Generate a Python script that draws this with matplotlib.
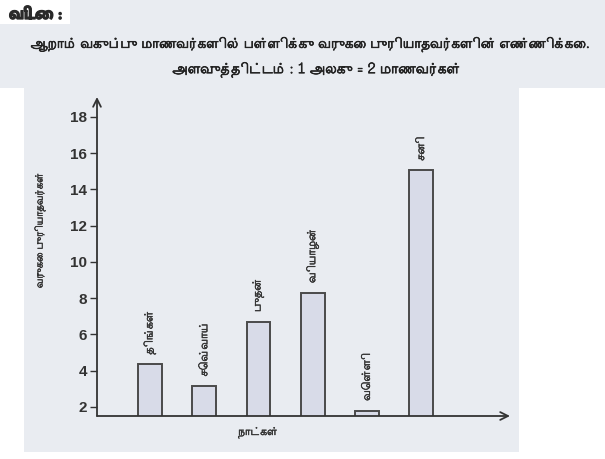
import matplotlib
matplotlib.use("Agg")
import matplotlib.pyplot as plt
from matplotlib import font_manager as fm
from matplotlib import patheffects as pe
from matplotlib.patches import Rectangle
import numpy as np

# ---- data ----
days = ["திங்கள்", "செவ்வாய்", "புதன்", "வியாழன்", "வெள்ளி", "சனி"]
units = [4.35, 3.15, 6.7, 8.3, 1.8, 15.05]
yticks = [2, 4, 6, 8, 10, 12, 14, 16, 18]
header = "விடை :"
title1 = "ஆறாம் வகுப்பு மாணவர்களில் பள்ளிக்கு வருகை புரியாதவர்களின் எண்ணிக்கை."
title2 = "அளவுத்திட்டம் : 1 அலகு = 2 மாணவர்கள்"
ylabel = "வருகை புரியாதவர்கள்"
xlabel = "நாட்கள்"

# ---- fonts ----
def find_font(prefixes):
    files = fm.findSystemFonts()
    for p in prefixes:
        for f in files:
            if f.split("/")[-1] == p:
                try:
                    fm.fontManager.addfont(f)
                    return fm.FontProperties(fname=f).get_name()
                except Exception:
                    pass
    return None

tamil = find_font(["Lohit-Tamil.ttf", "MuktaMalar-Regular.ttf", "HindMadurai-Regular.ttf"])
tamil_b = find_font(["MuktaMalar-Bold.ttf", "Lohit-Tamil.ttf"])
TF = [tamil, "DejaVu Sans"] if tamil else ["DejaVu Sans"]
TFB = [tamil_b, "DejaVu Sans"] if tamil_b else TF

W, H = 605, 459
fig = plt.figure(figsize=(W / 100, H / 100), dpi=100, facecolor="white")
renderer = fig.canvas.get_renderer()

def fit(t, target, vertical=False):
    bb = t.get_window_extent(renderer=renderer)
    size = bb.height if vertical else bb.width
    if size > 0:
        t.set_fontsize(t.get_fontsize() * target / size)

heavy = [pe.withStroke(linewidth=0.5, foreground="#222222")]
heavy_s = [pe.withStroke(linewidth=0.35, foreground="#333333")]
heavy_h = [pe.withStroke(linewidth=0.9, foreground="#2a2a2a")]

grey = "#e9ecf1"
def frect(x0, y0, x1, y1, color):
    fig.patches.append(Rectangle((x0 / W, 1 - y1 / H), (x1 - x0) / W, (y1 - y0) / H,
                                 transform=fig.transFigure, facecolor=color,
                                 edgecolor="none", zorder=-10))
frect(70, 0, W, 24, grey)
frect(0, 24, W, 88, grey)
frect(24, 88, 519, 452, grey)

ax = fig.add_axes([97 / W, 1 - 416 / H, (510 - 97) / W, (416 - 97) / H])
ax.set_facecolor("none")

x = np.arange(len(days))
bars = ax.bar(x, units, width=0.44, color="#d8dbe8", edgecolor="#4a4a4a", linewidth=1.4, zorder=3)
ax.set_xlim(-0.978, 6.64)
ax.set_ylim(1.5, 19.1)

for xi, v, d in zip(x, units, days):
    ax.annotate(d, (xi, v), xytext=(0, 7), textcoords="offset points",
                rotation=90, ha="center", va="bottom", fontsize=8,
                family=TF, color="#333333", path_effects=heavy_s)

for s in ax.spines.values():
    s.set_visible(False)
ax.annotate("", xy=(0, 1), xytext=(0, 0), xycoords="axes fraction",
            arrowprops=dict(arrowstyle="->", color="#333333", lw=1.3, shrinkA=0, shrinkB=0,
                            mutation_scale=14))
ax.annotate("", xy=(1, 0), xytext=(0, 0), xycoords="axes fraction",
            arrowprops=dict(arrowstyle="->", color="#333333", lw=1.3, shrinkA=0, shrinkB=0,
                            mutation_scale=14))

ax.set_yticks(yticks)
ax.set_yticklabels([str(t) for t in yticks], fontsize=11, fontweight="bold",
                   family="Liberation Sans", color="#333333")
ax.tick_params(axis="y", length=5, width=1.0, color="#333333", pad=2)
ax.set_xticks([])

t = fig.text(40 / W, 1 - 230 / H, ylabel, rotation=90, ha="center", va="center",
             fontsize=7.5, family=TF, color="#333333", path_effects=heavy_s)
fit(t, 115, vertical=True)
t = fig.text(258 / W, 1 - 433 / H, xlabel, ha="center", va="center",
             fontsize=8, family=TF, color="#333333", path_effects=heavy_s)
fit(t, 40)

t = fig.text(9 / W, 1 - 15 / H, header, ha="left", va="center", fontsize=10,
             fontweight="bold", family=TFB, color="#2a2a2a", path_effects=heavy_h)
fit(t, 53)
t = fig.text(309 / W, 1 - 45 / H, title1, ha="center", va="center", fontsize=11,
             family=TF, color="#222222", path_effects=heavy)
fit(t, 558)
t = fig.text(316 / W, 1 - 70 / H, title2, ha="center", va="center", fontsize=11,
             family=TF, color="#222222", path_effects=heavy)
fit(t, 288)

fig.savefig("out.png", dpi=100, facecolor="white")
